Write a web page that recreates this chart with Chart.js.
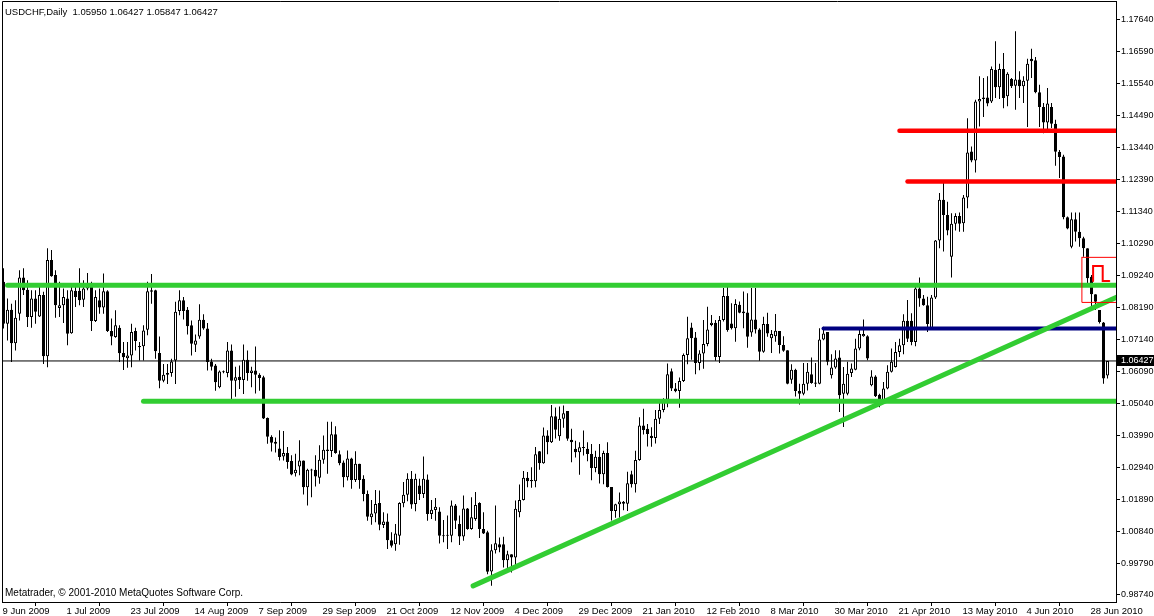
<!DOCTYPE html>
<html lang="en">
<head>
  <meta charset="UTF-8">
  <title>USDCHF, Daily</title>
  <script src="https://cdn.jsdelivr.net/npm/chart.js@4"></script>
  <style>
    html, body { margin: 0; padding: 0; background: #fff; }
    #wrap { position: relative; width: 1154px; height: 616px; }
    .note {
      position: absolute; left: 5px; line-height: 11px; white-space: pre;
      font-family: Tahoma, "Liberation Sans", Arial, sans-serif; font-size: 9.5px; color: #000;
    }
    #header { top: 6px; }
    #copy { top: 587px; font-size: 10px; }
  </style>
</head>
<body>
<div id="wrap">
  <canvas id="chart" width="1154" height="616"></canvas>
  <div class="note" id="header">USDCHF,Daily  1.05950 1.06427 1.05847 1.06427</div>
  <div class="note" id="copy">Metatrader, © 2001-2010 MetaQuotes Software Corp.</div>
</div>

<script>
// daily bars, 9 Jun 2009 .. 2 Jul 2010 (bar index 0..276)
const opens = [
  1.0903,1.0765,1.0811,1.0701,1.0798,1.0917,1.0877,1.0787,1.0848,1.0789,
  1.0859,1.0658,1.0974,1.0925,1.0817,1.0826,1.0848,1.0734,1.0873,1.0873,
  1.0844,1.0881,1.0899,1.0774,1.0842,1.0818,1.0872,1.0741,1.0721,1.0752,
  1.0669,1.0652,1.0661,1.0741,1.0692,1.0691,1.0745,1.0875,1.0875,1.0669,
  1.0578,1.0597,1.0603,1.0644,1.0807,1.0842,1.0811,1.0760,1.0696,1.0723,
  1.0778,1.0749,1.0641,1.0628,1.0556,1.0606,1.0603,1.0677,1.0578,1.0591,
  1.0580,1.0647,1.0603,1.0611,1.0597,1.0589,1.0455,1.0394,1.0377,1.0355,
  1.0329,1.0340,1.0314,1.0274,1.0296,1.0316,1.0228,1.0283,1.0285,1.0259,
  1.0318,1.0347,1.0347,1.0402,1.0336,1.0309,1.0261,1.0322,1.0252,1.0305,
  1.0256,1.0206,1.0129,1.0142,1.0176,1.0104,1.0115,1.0054,1.0041,1.0069,
  1.0175,1.0203,1.0256,1.0173,1.0234,1.0206,1.0253,1.0140,1.0153,1.0148,
  1.0070,1.0069,1.0069,1.0168,1.0107,1.0066,1.0158,1.0091,1.0124,1.0176,
  1.0091,1.0080,0.9951,1.0021,1.0041,1.0041,0.9988,1.0008,0.9997,1.0146,
  1.0186,1.0259,1.0252,1.0248,1.0346,1.0307,1.0398,1.0376,1.0461,1.0395,
  1.0453,1.0478,1.0384,1.0354,1.0343,1.0357,1.0354,1.0337,1.0291,1.0328,
  1.0271,1.0340,1.0229,1.0150,1.0172,1.0180,1.0174,1.0271,1.0238,1.0317,
  1.0431,1.0420,1.0397,1.0390,1.0453,1.0482,1.0515,1.0609,1.0552,1.0544,
  1.0577,1.0662,1.0753,1.0720,1.0636,1.0667,1.0698,1.0761,1.0768,1.0656,
  1.0777,1.0856,1.0766,1.0750,1.0827,1.0805,1.0802,1.0736,1.0779,1.0746,
  1.0673,1.0764,1.0717,1.0724,1.0741,1.0695,1.0678,1.0581,1.0614,1.0544,
  1.0535,1.0568,1.0599,1.0572,1.0568,1.0713,1.0738,1.0596,1.0621,1.0654,
  1.0535,1.0535,1.0603,1.0614,1.0684,1.0724,1.0724,1.0563,1.0592,1.0532,
  1.0508,1.0552,1.0607,1.0623,1.0672,1.0694,1.0775,1.0775,1.0705,1.0881,
  1.0848,1.0826,1.0749,1.0851,1.1038,1.1172,1.1122,1.0985,1.1093,1.1119,
  1.1095,1.1180,1.1331,1.1301,1.1495,1.1503,1.1508,1.1495,1.1599,1.1542,
  1.1602,1.1512,1.1569,1.1547,1.1567,1.1545,1.1563,1.1635,1.1630,1.1525,
  1.1477,1.1426,1.1477,1.1422,1.1330,1.1314,1.1115,1.1018,1.1108,1.1067,
  1.1046,1.1013,1.0919,1.0862,1.0810,1.0769,1.0595
];
const highs = [
  1.0947,1.0848,1.0831,1.0842,1.0941,1.0947,1.0908,1.0875,1.0875,1.0888,
  1.0870,1.1013,1.1007,1.0941,1.0903,1.0881,1.0875,1.0886,1.0886,1.0947,
  1.0908,1.0932,1.0903,1.0875,1.0881,1.0930,1.0875,1.0782,1.0809,1.0760,
  1.0705,1.0705,1.0765,1.0752,1.0705,1.0760,1.0903,1.0928,1.0877,1.0723,
  1.0633,1.0633,1.0650,1.0837,1.0875,1.0853,1.0820,1.0776,1.0730,1.0829,
  1.0796,1.0767,1.0650,1.0633,1.0611,1.0611,1.0705,1.0697,1.0624,1.0628,
  1.0697,1.0677,1.0624,1.0690,1.0602,1.0594,1.0457,1.0399,1.0391,1.0415,
  1.0413,1.0360,1.0333,1.0338,1.0382,1.0316,1.0289,1.0289,1.0333,1.0366,
  1.0398,1.0443,1.0443,1.0428,1.0349,1.0316,1.0349,1.0325,1.0346,1.0305,
  1.0267,1.0217,1.0186,1.0219,1.0217,1.0146,1.0142,1.0080,1.0107,1.0179,
  1.0245,1.0274,1.0281,1.0272,1.0256,1.0329,1.0270,1.0186,1.0193,1.0162,
  1.0120,1.0135,1.0184,1.0173,1.0135,1.0201,1.0160,1.0195,1.0212,1.0179,
  1.0146,1.0085,1.0041,1.0168,1.0063,1.0065,1.0019,1.0008,1.0184,1.0237,
  1.0281,1.0278,1.0294,1.0360,1.0347,1.0424,1.0415,1.0498,1.0490,1.0493,
  1.0496,1.0478,1.0420,1.0381,1.0376,1.0414,1.0376,1.0370,1.0348,1.0370,
  1.0348,1.0376,1.0229,1.0174,1.0211,1.0183,1.0279,1.0282,1.0348,1.0458,
  1.0486,1.0436,1.0425,1.0482,1.0515,1.0520,1.0634,1.0618,1.0570,1.0588,
  1.0667,1.0788,1.0768,1.0738,1.0678,1.0777,1.0821,1.0794,1.0777,1.0790,
  1.0882,1.0893,1.0832,1.0845,1.0838,1.0871,1.0865,1.0882,1.0882,1.0750,
  1.0788,1.0801,1.0744,1.0797,1.0741,1.0724,1.0678,1.0632,1.0617,1.0568,
  1.0636,1.0636,1.0654,1.0636,1.0750,1.0755,1.0738,1.0665,1.0678,1.0678,
  1.0623,1.0640,1.0634,1.0716,1.0749,1.0779,1.0727,1.0612,1.0596,1.0535,
  1.0574,1.0629,1.0684,1.0705,1.0716,1.0796,1.0843,1.0799,1.0892,1.0917,
  1.0859,1.0854,1.0859,1.1040,1.1194,1.1237,1.1166,1.1128,1.1128,1.1130,
  1.1188,1.1440,1.1347,1.1501,1.1578,1.1572,1.1578,1.1610,1.1693,1.1619,
  1.1654,1.1591,1.1572,1.1726,1.1594,1.1578,1.1635,1.1668,1.1641,1.1550,
  1.1490,1.1539,1.1490,1.1435,1.1336,1.1320,1.1117,1.1130,1.1130,1.1130,
  1.1051,1.1013,1.0925,1.0862,1.0810,1.0771,1.06427
];
const lows = [
  1.0749,1.0710,1.0639,1.0677,1.0776,1.0859,1.0754,1.0752,1.0765,1.0787,
  1.0633,1.0622,1.0919,1.0785,1.0787,1.0767,1.0694,1.0732,1.0820,1.0826,
  1.0820,1.0875,1.0741,1.0771,1.0798,1.0798,1.0738,1.0694,1.0719,1.0639,
  1.0613,1.0620,1.0622,1.0677,1.0644,1.0644,1.0727,1.0831,1.0650,1.0553,
  1.0573,1.0567,1.0591,1.0567,1.0793,1.0779,1.0730,1.0661,1.0672,1.0716,
  1.0745,1.0611,1.0611,1.0545,1.0553,1.0602,1.0589,1.0514,1.0525,1.0551,
  1.0534,1.0578,1.0556,1.0536,1.0545,1.0452,1.0371,1.0345,1.0342,1.0316,
  1.0316,1.0289,1.0267,1.0263,1.0267,1.0204,1.0168,1.0195,1.0230,1.0239,
  1.0305,1.0272,1.0327,1.0338,1.0300,1.0228,1.0250,1.0223,1.0245,1.0223,
  1.0182,1.0118,1.0105,1.0113,1.0087,1.0094,1.0025,1.0030,1.0019,1.0039,
  1.0162,1.0182,1.0157,1.0149,1.0186,1.0193,1.0118,1.0124,1.0118,1.0043,
  1.0047,1.0025,1.0047,1.0091,1.0038,1.0052,1.0088,1.0088,1.0118,1.0061,
  1.0074,0.9942,0.9904,1.0010,1.0014,0.9964,0.9959,0.9948,0.9959,1.0129,
  1.0184,1.0228,1.0226,1.0228,1.0285,1.0305,1.0336,1.0373,1.0388,1.0381,
  1.0423,1.0381,1.0310,1.0326,1.0269,1.0332,1.0313,1.0251,1.0277,1.0240,
  1.0238,1.0227,1.0119,1.0128,1.0128,1.0152,1.0150,1.0227,1.0211,1.0315,
  1.0401,1.0362,1.0361,1.0372,1.0436,1.0474,1.0491,1.0544,1.0540,1.0489,
  1.0574,1.0632,1.0647,1.0599,1.0612,1.0617,1.0691,1.0757,1.0643,1.0636,
  1.0772,1.0739,1.0746,1.0706,1.0799,1.0750,1.0686,1.0722,1.0733,1.0643,
  1.0670,1.0722,1.0669,1.0706,1.0667,1.0673,1.0566,1.0568,1.0526,1.0500,
  1.0530,1.0546,1.0568,1.0557,1.0566,1.0711,1.0629,1.0585,1.0617,1.0475,
  1.0426,1.0530,1.0590,1.0612,1.0678,1.0722,1.0645,1.0560,1.0524,1.0491,
  1.0506,1.0550,1.0605,1.0621,1.0656,1.0665,1.0705,1.0694,1.0691,1.0821,
  1.0824,1.0738,1.0747,1.0846,1.1013,1.1002,1.1056,1.0917,1.1071,1.1067,
  1.1067,1.1144,1.1295,1.1262,1.1413,1.1444,1.1479,1.1490,1.1506,1.1503,
  1.1473,1.1479,1.1539,1.1468,1.1506,1.1490,1.1411,1.1572,1.1522,1.1411,
  1.1391,1.1397,1.1408,1.1284,1.1244,1.1108,1.1075,1.1013,1.1035,1.1018,
  1.0985,1.0886,1.0810,1.0810,1.0766,1.0568,1.05847
];
const closes = [
  1.0765,1.0811,1.0701,1.0785,1.0917,1.0875,1.0787,1.0848,1.0804,1.0859,
  1.0658,1.0974,1.0921,1.0826,1.0826,1.0853,1.0732,1.0875,1.0853,1.0842,
  1.0881,1.0897,1.0774,1.0853,1.0818,1.0872,1.0741,1.0723,1.0760,1.0668,
  1.0655,1.0661,1.0738,1.0708,1.0688,1.0743,1.0872,1.0870,1.0675,1.0578,
  1.0597,1.0603,1.0641,1.0804,1.0842,1.0807,1.0757,1.0699,1.0710,1.0778,
  1.0749,1.0639,1.0624,1.0573,1.0608,1.0608,1.0677,1.0578,1.0589,1.0580,
  1.0647,1.0603,1.0611,1.0597,1.0587,1.0454,1.0394,1.0374,1.0371,1.0327,
  1.0340,1.0311,1.0270,1.0285,1.0316,1.0228,1.0285,1.0285,1.0263,1.0318,
  1.0351,1.0352,1.0402,1.0340,1.0307,1.0261,1.0322,1.0252,1.0305,1.0252,
  1.0206,1.0131,1.0142,1.0173,1.0105,1.0115,1.0054,1.0036,1.0076,1.0176,
  1.0203,1.0256,1.0171,1.0256,1.0206,1.0256,1.0140,1.0154,1.0164,1.0069,
  1.0067,1.0069,1.0168,1.0118,1.0066,1.0158,1.0091,1.0129,1.0170,1.0091,
  1.0076,0.9950,1.0021,1.0044,1.0030,0.9988,1.0008,0.9997,1.0157,1.0186,
  1.0259,1.0248,1.0248,1.0336,1.0307,1.0398,1.0376,1.0461,1.0417,1.0453,
  1.0471,1.0387,1.0376,1.0343,1.0359,1.0357,1.0337,1.0291,1.0328,1.0271,
  1.0340,1.0229,1.0150,1.0172,1.0181,1.0174,1.0241,1.0238,1.0317,1.0431,
  1.0416,1.0403,1.0390,1.0453,1.0482,1.0515,1.0599,1.0552,1.0543,1.0577,
  1.0662,1.0717,1.0717,1.0636,1.0667,1.0698,1.0746,1.0768,1.0656,1.0777,
  1.0856,1.0744,1.0750,1.0830,1.0801,1.0799,1.0722,1.0779,1.0746,1.0673,
  1.0764,1.0733,1.0731,1.0742,1.0695,1.0676,1.0568,1.0614,1.0544,1.0535,
  1.0568,1.0607,1.0570,1.0568,1.0713,1.0733,1.0640,1.0621,1.0651,1.0530,
  1.0568,1.0601,1.0618,1.0684,1.0731,1.0731,1.0651,1.0592,1.0527,1.0508,
  1.0552,1.0607,1.0640,1.0672,1.0694,1.0775,1.0716,1.0705,1.0881,1.0848,
  1.0826,1.0764,1.0851,1.1038,1.1172,1.1122,1.1071,1.1093,1.1119,1.1093,
  1.1180,1.1327,1.1301,1.1495,1.1503,1.1508,1.1488,1.1602,1.1542,1.1602,
  1.1506,1.1586,1.1545,1.1567,1.1545,1.1563,1.1619,1.1627,1.1525,1.1477,
  1.1426,1.1488,1.1422,1.1330,1.1313,1.1115,1.1078,1.1108,1.1067,1.1046,
  1.1013,1.0914,1.0862,1.0837,1.0771,1.0585,1.06427
];

// time axis labels (every 16th bar)
const dateTicks = [0,16,32,48,64,80,96,112,128,144,160,176,192,208,224,240,256,272];
const dateLabels = ['9 Jun 2009','1 Jul 2009','23 Jul 2009','14 Aug 2009','7 Sep 2009','29 Sep 2009',
  '21 Oct 2009','12 Nov 2009','4 Dec 2009','29 Dec 2009','21 Jan 2010','12 Feb 2010','8 Mar 2010',
  '30 Mar 2010','21 Apr 2010','13 May 2010','4 Jun 2010','28 Jun 2010'];
const priceTicks = [0.98740,0.99790,1.00840,1.01890,1.02940,1.03990,1.05040,1.06090,1.07140,1.08190,
  1.09240,1.10290,1.11340,1.12390,1.13440,1.14490,1.15540,1.16590,1.17640];

// drawn objects (bar index, price)
const greenLevels = [1.0891, 1.0510];
const greenStarts = [1, 35];
const redLevels = [1.1399, 1.1232];
const redStarts = [224, 226];
const navyLevel = 1.0749;
const navyStart = 205;
const trendX = [117.4, 279];
const trendY = [0.9904, 1.0856];
const boxX = [269.6, 281];
const boxY = [1.0835, 1.0983];
const stepX = [272.4, 272.4, 274.8, 274.8, 276.45];
const stepY = [1.0905, 1.0955, 1.0955, 1.0905, 1.0905];
const lastPrice = 1.06427;
const rightEnd = 281;

const FONT = { family: 'Tahoma, "Liberation Sans", Arial, sans-serif', size: 9.5 };
const AXIS_FONT = { family: 'Tahoma, "Liberation Sans", Arial, sans-serif', size: 9 };

const bodies = opens.map((o, i) => ({ x: i, y: [o, closes[i]] }));
const wicks = opens.map((o, i) => ({ x: i, y: [lows[i], highs[i]] }));
const bodyColors = opens.map((o, i) => closes[i] >= o ? '#ffffff' : '#000000');

function segment(xs, ys, color, width, order) {
  return {
    type: 'line',
    data: xs.map((x, k) => ({ x: x, y: ys[k] })),
    borderColor: color, borderWidth: width,
    pointRadius: 0, borderCapStyle: 'round', borderJoinStyle: 'miter',
    tension: 0, clip: 0, order: order
  };
}

const datasets = [
  segment([-1, rightEnd], [lastPrice, lastPrice], '#000000', 1, 5),
  {
    type: 'bar', data: wicks, backgroundColor: '#000000', borderWidth: 0,
    barThickness: 1, grouped: false, inflateAmount: 0, order: 4
  },
  {
    type: 'bar', data: bodies, backgroundColor: bodyColors, borderColor: '#000000',
    borderWidth: 1, borderSkipped: false, barThickness: 3, minBarLength: 1,
    grouped: false, inflateAmount: 0, order: 3
  }
];
greenLevels.forEach((p, k) => datasets.push(segment([greenStarts[k], rightEnd], [p, p], '#32cd32', 5, 1)));
datasets.push(segment(trendX, trendY, '#32cd32', 5, 1));
datasets.push(segment([navyStart, rightEnd], [navyLevel, navyLevel], '#000080', 4, 1));
redLevels.forEach((p, k) => datasets.push(segment([redStarts[k], rightEnd], [p, p], '#ff0000', 4.5, 1)));
datasets.push(segment([boxX[0], boxX[1], boxX[1], boxX[0], boxX[0]],
                      [boxY[1], boxY[1], boxY[0], boxY[0], boxY[1]], '#ff0000', 1, 0));
datasets.push(segment(stepX, stepY, '#ff0000', 2, 0));

// frame around the plot + bid label on the price axis
const framePlugin = {
  id: 'frame',
  afterDraw(chart) {
    const { ctx, chartArea: a, scales } = chart;
    ctx.save();
    ctx.strokeStyle = '#000';
    ctx.lineWidth = 1;
    ctx.beginPath();
    ctx.moveTo(a.left + 0.5, a.bottom);
    ctx.lineTo(a.left + 0.5, a.top + 0.5);
    ctx.lineTo(a.right, a.top + 0.5);
    ctx.stroke();
    const y = Math.round(scales.y.getPixelForValue(lastPrice));
    ctx.fillStyle = '#000';
    ctx.fillRect(a.right + 1, y - 6, 40, 11);
    ctx.fillStyle = '#fff';
    ctx.font = AXIS_FONT.size + 'px ' + AXIS_FONT.family;
    ctx.textBaseline = 'middle';
    ctx.fillText(lastPrice.toFixed(5), a.right + 5, y);
    ctx.restore();
  }
};

new Chart(document.getElementById('chart'), {
  type: 'bar',
  data: { datasets: datasets },
  options: {
    responsive: false,
    devicePixelRatio: 1,
    animation: false,
    layout: { padding: { left: 2, top: 1, right: 0, bottom: 0 } },
    plugins: { legend: { display: false }, tooltip: { enabled: false } },
    scales: {
      x: {
        type: 'linear', min: -0.375, max: 278.125, offset: false,
        afterBuildTicks: s => { s.ticks = dateTicks.map(v => ({ value: v })); },
        afterFit: s => { s.height = 14; s.paddingLeft = 0; s.paddingRight = 0; },
        ticks: {
          autoSkip: false, maxRotation: 0, align: 'start', labelOffset: -1, padding: 0,
          color: '#000', font: FONT,
          callback: (v, i) => dateLabels[i]
        },
        grid: { drawOnChartArea: false, drawTicks: true, tickLength: 4, tickColor: '#000' },
        border: { display: true, color: '#000' }
      },
      y: {
        type: 'linear', position: 'right', min: 0.9851, max: 1.1825,
        afterBuildTicks: s => { s.ticks = priceTicks.map(v => ({ value: v })); },
        afterFit: s => { s.width = 38; s.paddingTop = 0; s.paddingBottom = 0; },
        ticks: {
          autoSkip: false, padding: 1, color: '#000', font: AXIS_FONT,
          callback: v => v.toFixed(5)
        },
        grid: { drawOnChartArea: false, drawTicks: true, tickLength: 4, tickColor: '#000' },
        border: { display: true, color: '#000' }
      }
    }
  },
  plugins: [framePlugin]
});
</script>
</body>
</html>
